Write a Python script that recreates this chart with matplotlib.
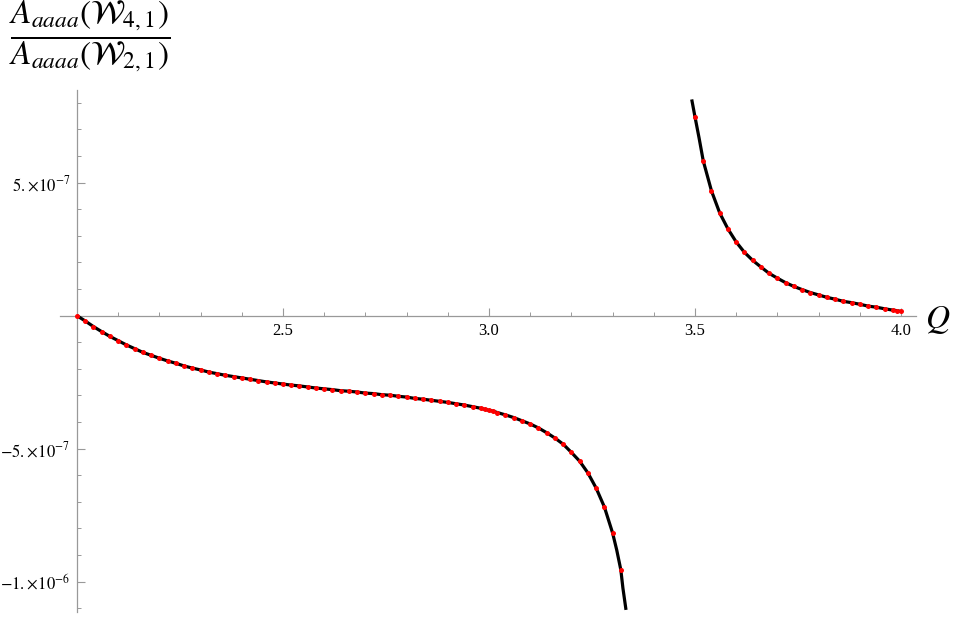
import numpy as np
import matplotlib.pyplot as plt

plt.rcParams['font.family'] = ['Liberation Serif', 'DejaVu Serif']
plt.rcParams['mathtext.fontset'] = 'stix'

# sample points (red dots), y in units of 1e-7
lo_x = [2.00, 2.02, 2.04, 2.06, 2.08, 2.10, 2.12, 2.14, 2.16, 2.18,
        2.20, 2.22, 2.24, 2.26, 2.28, 2.30, 2.32, 2.34, 2.36, 2.38,
        2.40, 2.42, 2.44, 2.46, 2.48, 2.50, 2.52, 2.54, 2.56, 2.58,
        2.60, 2.62, 2.64, 2.66, 2.68, 2.70, 2.72, 2.74, 2.76, 2.78,
        2.80, 2.82, 2.84, 2.86, 2.88, 2.90, 2.92, 2.94, 2.96, 2.98,
        2.99, 3.00, 3.01, 3.02, 3.04, 3.06, 3.08, 3.10, 3.12, 3.14,
        3.16, 3.18, 3.20, 3.22, 3.24, 3.26, 3.28, 3.30, 3.32]
lo_y = [0.00, -0.20, -0.41, -0.60, -0.78, -0.94, -1.10, -1.24, -1.38, -1.49,
        -1.60, -1.70, -1.79, -1.89, -1.97, -2.04, -2.12, -2.18, -2.24, -2.29,
        -2.34, -2.39, -2.44, -2.49, -2.53, -2.57, -2.61, -2.64, -2.68, -2.72,
        -2.75, -2.78, -2.82, -2.84, -2.87, -2.91, -2.93, -2.97, -2.99, -3.03,
        -3.06, -3.11, -3.14, -3.18, -3.22, -3.26, -3.31, -3.36, -3.42, -3.48,
        -3.52, -3.56, -3.59, -3.64, -3.73, -3.83, -3.95, -4.07, -4.22, -4.40,
        -4.60, -4.83, -5.14, -5.47, -5.91, -6.48, -7.19, -8.17, -9.56]

hi_x = [3.50, 3.52, 3.54, 3.56, 3.58, 3.60, 3.62, 3.64, 3.66, 3.68,
        3.70, 3.72, 3.74, 3.76, 3.78, 3.80, 3.82, 3.84, 3.86, 3.88,
        3.90, 3.92, 3.94, 3.96, 3.98, 3.99, 4.00]
hi_y = [7.47, 5.82, 4.69, 3.86, 3.26, 2.77, 2.38, 2.08, 1.83, 1.59,
        1.41, 1.24, 1.10, 0.98, 0.87, 0.78, 0.69, 0.62, 0.54, 0.49,
        0.43, 0.36, 0.32, 0.26, 0.21, 0.19, 0.16]

# extra readings of the black curve near the pole
lo_extra_x = [3.31, 3.325, 3.3325]
lo_extra_y = [-8.81, -10.24, -11.06]
hi_extra_x = [3.492, 3.51]
hi_extra_y = [8.13, 6.67]

x_major = [2.5, 3.0, 3.5, 4.0]
x_labels = ['2.5', '3.0', '3.5', '4.0']
x_minor = [2.1, 2.2, 2.3, 2.4, 2.6, 2.7, 2.8, 2.9, 3.1, 3.2, 3.3, 3.4,
           3.6, 3.7, 3.8, 3.9]
y_major = [-10, -5, 5]
y_labels = [r'$-1.\!\times\!10^{-6}$', r'$-5.\!\times\!10^{-7}$', r'$5.\!\times\!10^{-7}$']
y_minor = [-11, -9, -8, -7, -6, -4, -3, -2, -1, 1, 2, 3, 4, 6, 7, 8]

scale = 1e-7
axis_grey = '#999999'

fig = plt.figure(figsize=(9.54, 6.2), dpi=100)
ax = fig.add_axes([0, 0, 1, 1])
ax.set_xlim(1.8131, 4.1286)
ax.set_ylim(-11.44 * scale, 11.868 * scale)

# black curves through dots + extra readings
def merged(x1, y1, x2, y2):
    x = np.array(x1 + x2)
    y = np.array(y1 + y2)
    order = np.argsort(x)
    return x[order], y[order] * scale

lx, ly = merged(lo_x, lo_y, lo_extra_x, lo_extra_y)
hx, hy = merged(hi_x, hi_y, hi_extra_x, hi_extra_y)
ax.plot(lx, ly, color='black', lw=2.3, solid_capstyle='butt', zorder=3)
ax.plot(hx, hy, color='black', lw=2.3, solid_capstyle='butt', zorder=3)

ax.plot(lo_x, np.array(lo_y) * scale, 'o', color='red', ms=3.6, mew=0, zorder=4)
ax.plot(hi_x, np.array(hi_y) * scale, 'o', color='red', ms=3.6, mew=0, zorder=4)

# Mathematica style axes crossing at (2, 0)
for s in ['top', 'right']:
    ax.spines[s].set_visible(False)
ax.spines['left'].set_position(('data', 2.0))
ax.spines['bottom'].set_position(('data', 0.0))
ax.spines['left'].set_bounds(-11.14 * scale, 8.48 * scale)
ax.spines['bottom'].set_bounds(1.959, 4.036)
for s in ['left', 'bottom']:
    ax.spines[s].set_color(axis_grey)
    ax.spines[s].set_linewidth(0.9)

ax.set_xticks(x_major)
ax.set_xticklabels(x_labels)
ax.set_xticks(x_minor, minor=True)
ax.set_yticks([v * scale for v in y_major])
ax.set_yticklabels(y_labels)
ax.set_yticks([v * scale for v in y_minor], minor=True)

ax.tick_params(which='major', direction='in', length=5.5, width=0.8,
               color=axis_grey, labelsize=12, pad=5)
ax.tick_params(which='minor', direction='in', length=3.2, width=0.7,
               color=axis_grey)

fig.text(90 / 954, 1 - 37 / 620,
         r'$\dfrac{A_{aaaa}(\mathcal{W}_{4,1})}{A_{aaaa}(\mathcal{W}_{2,1})}$',
         fontsize=24, ha='center', va='center')
fig.text(938 / 954, 1 - 320 / 620, r'$Q$', fontsize=24, ha='center', va='center')

fig.savefig('out.png', dpi=100)
